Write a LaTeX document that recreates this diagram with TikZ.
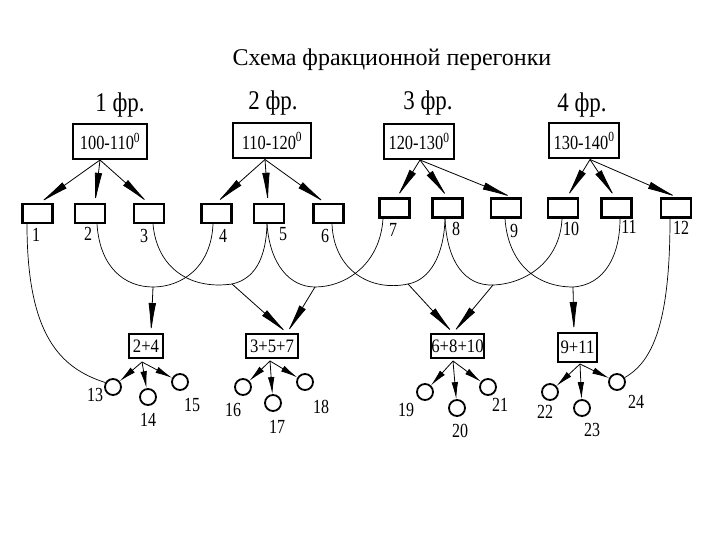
\documentclass[tikz,border=0pt]{standalone}
\usepackage{fontspec}
\setmainfont{Liberation Serif}
\usetikzlibrary{arrows.meta}
\begin{document}
\begin{tikzpicture}[x=1pt,y=-1pt,
  titletext/.style={font=\fontsize{24}{28}\selectfont,inner sep=0pt},
  fractext/.style={font=\fontsize{27}{30}\selectfont,inner sep=0pt,xscale=0.85},
  topbox/.style={draw,line width=2pt,inner sep=0pt,minimum height=35pt},
  boxtext/.style={font=\fontsize{20}{22}\selectfont,inner sep=0pt,xscale=0.82},
  smallbox/.style={draw,line width=2.5pt,inner sep=0pt,minimum width=30pt,minimum height=19pt},
  botbox/.style={draw,line width=2pt,inner sep=0pt,minimum height=24pt},
  bottext/.style={font=\fontsize{19}{21}\selectfont,inner sep=0pt,xscale=0.88},
  recv/.style={circle,draw,line width=1.8pt,minimum size=16pt,inner sep=0pt},
  lbl/.style={font=\fontsize{20}{22}\selectfont,inner sep=0pt,xscale=0.8},
  feed/.style={line width=0.8pt,-{Latex[length=30pt,width=7.5pt,fill=black]}},
  drain/.style={line width=0.8pt,-{Latex[length=17pt,width=6.5pt,fill=black]}},
  pipe/.style={line width=0.7pt}]
\useasboundingbox (0,0) rectangle (720,540);
% title
\node[titletext] (title) at (392,60) {Схема фракционной перегонки};
% fraction labels
\node[fractext] (f1) at (120,105) {1 фр.};
\node[fractext] (f2) at (273,103) {2 фр.};
\node[fractext] (f3) at (428,103) {3 фр.};
\node[fractext] (f4) at (582,105) {4 фр.};
% top boxes
\node[topbox,minimum width=74pt] (t1) at (110,141.5) {};
\node[topbox,minimum width=78pt] (t2) at (272,141) {};
\node[topbox,minimum width=70pt] (t3) at (419,141.5) {};
\node[topbox,minimum width=70pt] (t4) at (584,141) {};
\node[boxtext] (tt1) at (t1) {100-110\textsuperscript{0}};
\node[boxtext] (tt2) at (t2) {110-120\textsuperscript{0}};
\node[boxtext] (tt3) at (t3) {120-130\textsuperscript{0}};
\node[boxtext] (tt4) at (t4) {130-140\textsuperscript{0}};
% small boxes
\node[smallbox] (b1) at (37.5,213.5) {};
\node[smallbox] (b2) at (90,213.5) {};
\node[smallbox] (b3) at (149,213.5) {};
\node[smallbox] (b4) at (216.5,213.5) {};
\node[smallbox] (b5) at (269,213.5) {};
\node[smallbox] (b6) at (328.5,213.5) {};
\node[smallbox] (b7) at (394.5,208) {};
\node[smallbox] (b8) at (447.5,208) {};
\node[smallbox] (b9) at (506,208) {};
\node[smallbox] (b10) at (563,208) {};
\node[smallbox] (b11) at (616.5,208) {};
\node[smallbox] (b12) at (676,208) {};
% labels of small boxes
\node[lbl] (l1) at (36,235) {1};
\node[lbl] (l2) at (88,234) {2};
\node[lbl] (l3) at (144,236) {3};
\node[lbl] (l4) at (223,236) {4};
\node[lbl] (l5) at (283,234) {5};
\node[lbl] (l6) at (325,236) {6};
\node[lbl] (l7) at (393,230) {7};
\node[lbl] (l8) at (456,229) {8};
\node[lbl] (l9) at (514,231) {9};
\node[lbl] (l10) at (571,229) {10};
\node[lbl] (l11) at (629,227) {11};
\node[lbl] (l12) at (681,228) {12};
% apexes
\coordinate (a1) at ([xshift=-10pt]t1.south);
\coordinate (a2) at ([xshift=-7pt]t2.south);
\coordinate (a3) at ([xshift=1pt]t3.south);
\coordinate (a4) at ([xshift=6pt]t4.south);
\draw[feed] (a1) -- ([xshift=2.5pt]b1.north);
\draw[feed] (a1) -- ([xshift=5pt]b2.north);
\draw[feed] (a1) -- ([xshift=-1pt]b3.north);
\draw[feed] (a2) -- (b4.north);
\draw[feed] (a2) -- ([xshift=-1pt]b5.north);
\draw[feed] (a2) -- ([xshift=-3.5pt]b6.north);
\draw[feed] (a3) -- ([xshift=2.5pt]b7.north);
\draw[feed] (a3) -- (b8.north);
\draw[feed] (a3) -- ([xshift=6pt]b9.north);
\draw[feed] (a4) -- ([xshift=4pt]b10.north);
\draw[feed] (a4) -- ([xshift=-1.5pt]b11.north);
\draw[feed] (a4) -- ([xshift=1pt]b12.north);
% outlets of small boxes
\coordinate (s1) at ([xshift=-10.5pt]b1.south);
\coordinate (s2) at ([xshift=7pt]b2.south);
\coordinate (s3) at ([xshift=4pt]b3.south);
\coordinate (s4) at ([xshift=-3.5pt]b4.south);
\coordinate (s5) at ([xshift=-2pt]b5.south);
\coordinate (s6) at ([xshift=3.5pt]b6.south);
\coordinate (s7) at ([xshift=-11.5pt]b7.south);
\coordinate (s8) at ([xshift=-2.5pt]b8.south);
\coordinate (s9) at ([xshift=-1pt]b9.south);
\coordinate (s10) at ([xshift=-1pt]b10.south);
\coordinate (s11) at ([xshift=3.5pt]b11.south);
\coordinate (s12) at ([xshift=-6pt]b12.south);
% junctions
\coordinate (j24) at (153,287);
\coordinate (j35) at (232,284);
\coordinate (j57) at (315,287);
\coordinate (j68) at (408,284);
\coordinate (j810) at (493,285);
\coordinate (j911) at (573,287);
% bottom boxes
\node[botbox,minimum width=34pt] (n24) at (146,346) {};
\node[botbox,minimum width=52pt] (n357) at (272,346) {};
\node[botbox,minimum width=53pt] (n6810) at (457.5,346) {};
\node[botbox,minimum width=39pt,minimum height=29pt] (n911) at (577.5,347.5) {};
\node[bottext] (bt24) at (n24) {2+4};
\node[bottext] (bt357) at (n357) {3+5+7};
\node[bottext] (bt6810) at (n6810) {6+8+10};
\node[bottext] (bt911) at (n911) {9+11};
% receivers
\node[recv] (c13) at (113,387) {};
\node[recv] (c14) at (148,397) {};
\node[recv] (c15) at (180,382) {};
\node[recv] (c16) at (243,387) {};
\node[recv] (c17) at (273,403) {};
\node[recv] (c18) at (305,382) {};
\node[recv] (c19) at (425,392) {};
\node[recv] (c20) at (457,408) {};
\node[recv] (c21) at (488,387) {};
\node[recv] (c22) at (550,392) {};
\node[recv] (c23) at (582,408) {};
\node[recv] (c24) at (617,382) {};
% receiver labels
\node[lbl] (r13) at (95,395) {13};
\node[lbl] (r14) at (148,420) {14};
\node[lbl] (r15) at (192,405) {15};
\node[lbl] (r16) at (233,410) {16};
\node[lbl] (r17) at (277,427) {17};
\node[lbl] (r18) at (321,407) {18};
\node[lbl] (r19) at (406,410) {19};
\node[lbl] (r20) at (460,431) {20};
\node[lbl] (r21) at (500,405) {21};
\node[lbl] (r22) at (545,412) {22};
\node[lbl] (r23) at (592,430) {23};
\node[lbl] (r24) at (636,402) {24};
% curves
\draw[pipe] (s1) .. controls (27,335) and (60,368) .. (c13.150);
\draw[pipe] (s12) .. controls (670,325) and (652,362) .. (c24.30);
\draw[pipe] (s2) .. controls (100,268) and (125,287) .. (j24);
\draw[pipe] (j24) .. controls (181,287) and (211,268) .. (s4);
\draw[pipe] (s3) .. controls (157,268) and (190,290) .. (j35);
\draw[pipe] (j35) .. controls (255,279) and (266,258) .. (s5);
\draw[pipe] (s5) .. controls (270,265) and (290,287) .. (j57);
\draw[pipe] (j57) .. controls (345,287) and (380,265) .. (s7);
\draw[pipe] (s6) .. controls (334,270) and (370,292) .. (j68);
\draw[pipe] (j68) .. controls (430,280) and (444,255) .. (s8);
\draw[pipe] (s8) .. controls (447,262) and (465,286) .. (j810);
\draw[pipe] (j810) .. controls (525,284) and (560,262) .. (s10);
\draw[pipe] (s9) .. controls (508,262) and (535,287) .. (j911);
\draw[pipe] (j911) .. controls (605,285) and (620,255) .. (s11);
% stems
\draw[feed] (j24) -- ([xshift=5pt]n24.north);
\draw[feed] (j35) -- ([xshift=15pt]n357.north);
\draw[feed] (j57) -- ([xshift=15pt]n357.north);
\draw[feed] (j68) -- ([xshift=-4.5pt]n6810.north);
\draw[feed] (j810) -- ([xshift=-4.5pt]n6810.north);
\draw[feed] (j911) -- ([xshift=-3.5pt]n911.north);
% outlets to receivers
\coordinate (o24) at ([xshift=-4pt,yshift=-3pt]n24.south);
\coordinate (o357) at ([xshift=-2pt,yshift=-2pt]n357.south);
\coordinate (o6810) at ([xshift=-4.5pt,yshift=-2pt]n6810.south);
\coordinate (o911) at ([xshift=2.5pt,yshift=-1pt]n911.south);
\foreach \c in {c13,c14,c15} \draw[drain] (o24) -- (\c);
\foreach \c in {c16,c17,c18} \draw[drain] (o357) -- (\c);
\foreach \c in {c19,c20,c21} \draw[drain] (o6810) -- (\c);
\foreach \c in {c22,c23,c24} \draw[drain] (o911) -- (\c);
\end{tikzpicture}
\end{document}
